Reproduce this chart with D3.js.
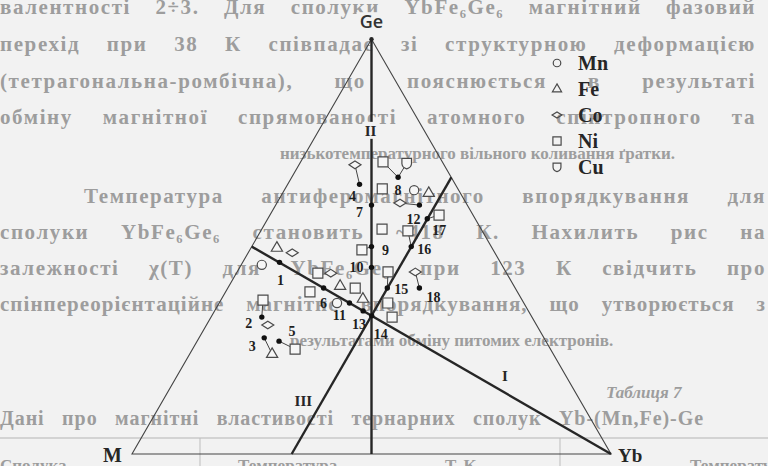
<!DOCTYPE html>
<html>
<head>
<meta charset="utf-8">
<script src="https://cdn.jsdelivr.net/npm/d3@7"></script>
<style>
html, body { margin: 0; padding: 0; background: #f2f2f2; }
#chartView { position: relative; width: 768px; height: 466px; overflow: hidden; }
.ternaryChart { position: absolute; }
</style>
</head>
<body>
<div id="ternary"><div data-id="chartView" id="chartView"></div></div>
<script>
// corners of the diagram, order of every composition below: [Ge, M, Yb]
var vertexNames = ['Ge', 'M', 'Yb'];
var elements = ['Mn', 'Fe', 'Co', 'Ni', 'Cu'];

// numbered compounds (filled dots)
var compounds = [
    ['1', 0.462, 0.461, 0.077],
    ['2', 0.330, 0.564, 0.106],
    ['3', 0.280, 0.584, 0.136],
    ['4', 0.650, 0.200, 0.150],
    ['5', 0.272, 0.557, 0.171],
    ['6', 0.400, 0.400, 0.200],
    ['7', 0.600, 0.200, 0.200],
    ['8', 0.667, 0.111, 0.222],
    ['9', 0.500, 0.250, 0.250],
    ['10', 0.450, 0.275, 0.275],
    ['11', 0.364, 0.364, 0.272],
    ['12', 0.600, 0.100, 0.300],
    ['13', 0.345, 0.345, 0.310],
    ['14', 0.333, 0.333, 0.334],
    ['15', 0.400, 0.267, 0.333],
    ['16', 0.500, 0.167, 0.333],
    ['17', 0.567, 0.100, 0.333],
    ['18', 0.400, 0.200, 0.400]
];

// compounds with a given M (open symbols), last column = compound it is tied to
var variants = [
    ['Co', 0.697, 0.186, 0.117, '4'],
    ['Ni', 0.704, 0.124, 0.172, '8'],
    ['Cu', 0.701, 0.076, 0.223, '8'],
    ['Ni', 0.639, 0.158, 0.203, null],
    ['Mn', 0.636, 0.093, 0.271, null],
    ['Fe', 0.629, 0.066, 0.305, null],
    ['Co', 0.605, 0.138, 0.257, '12'],
    ['Ni', 0.576, 0.071, 0.353, '17'],
    ['Ni', 0.542, 0.207, 0.251, null],
    ['Ni', 0.538, 0.155, 0.307, '16'],
    ['Ni', 0.492, 0.274, 0.234, '9'],
    ['Fe', 0.497, 0.449, 0.054, null],
    ['Co', 0.485, 0.423, 0.092, null],
    ['Mn', 0.456, 0.501, 0.043, null],
    ['Ni', 0.439, 0.246, 0.315, '15'],
    ['Co', 0.439, 0.189, 0.372, '18'],
    ['Ni', 0.436, 0.394, 0.170, null],
    ['Co', 0.436, 0.367, 0.197, null],
    ['Fe', 0.405, 0.363, 0.232, null],
    ['Ni', 0.400, 0.334, 0.266, null],
    ['Ni', 0.391, 0.433, 0.176, null],
    ['Mn', 0.364, 0.390, 0.246, null],
    ['Fe', 0.374, 0.331, 0.295, null],
    ['Ni', 0.364, 0.284, 0.352, null],
    ['Ni', 0.330, 0.292, 0.378, null],
    ['Ni', 0.371, 0.541, 0.088, '2'],
    ['Co', 0.311, 0.561, 0.128, null],
    ['Fe', 0.241, 0.587, 0.172, '3'],
    ['Ni', 0.253, 0.533, 0.214, '5']
];

// section lines I, II, III: from / to compositions
var lineNames = ['I', 'II', 'III'];
var lineFrom = [[0.5, 0.5, 0], [1, 0, 0], [0, 2 / 3, 1 / 3]];
var lineTo = [[0, 0, 1], [0, 0.5, 0.5], [2 / 3, 0, 1 / 3]];

// the printed page behind the figure
var pageLines = [
    'валентності 2÷3. Для сполуки YbFe₆Ge₆ магнітний фазовий',
    'перехід при 38 К співпадає зі структурною деформацією',
    '(тетрагональна-ромбічна), що пояснюється в результаті',
    'обміну магнітної спрямованості атомного спінтропного та',
    'низькотемпературного вільного коливання ґратки.',
    'Температура антиферомагнітного впорядкування для',
    'сполуки YbFe₆Ge₆ становить ~418 К. Нахилить рис на',
    'залежності χ(T) для YbFe₆Ge₆ при 123 К свідчить про',
    'спінпереорієнтаційне магнітне впорядкування, що утворюється з',
    'результатами обміну питомих електронів.',
    'Таблиця 7',
    'Дані про магнітні властивості тернарних сполук Yb-(Mn,Fe)-Ge'
];
var tableHead = ['Сполука', 'Температура', 'T, K', 'Температура'];

var VIS = VIS || {};
VIS.CHART = VIS.CHART || {};
VIS.CHART.WIDGET = VIS.CHART.WIDGET || {};
VIS.CHART.WIDGET.ternaryWidget = function (options) {

    if (!options) throw 'options can not be null';
    else if (options && !options.element) throw 'options.element can not be null';

    var defaultVal = {
        corner: { left: 132, right: 611, base: 454 },
        dotSize: 2.7,
        ink: '#262626',
        paper: '#f2f2f2',
        pageInk: '#9d9d9d',
        serif: '"Liberation Serif", "DejaVu Serif", serif',
        // [x start, x end (justified) or null, baseline, font size]
        pageLayout: [
            [0, 756, 14, 21], [0, 756, 51, 21], [0, 756, 88, 21], [0, 756, 124, 21],
            [280, null, 159, 17], [84, 766, 203, 21], [0, 766, 239, 21], [0, 766, 275, 21],
            [0, 766, 311, 21], [290, null, 346, 17], [606, null, 398, 17], [0, 704, 425, 20]
        ],
        tableHeadX: [0, 238, 445, 690],
        labelOffset: {
            '1': [1, 18], '2': [-13, 6], '3': [-12, 8], '4': [-7, 12], '5': [13, -10],
            '6': [0, 15], '7': [-12, 7], '8': [0, 13], '9': [14, 3], '10': [-15, 0],
            '11': [-10, 12], '12': [-6, 14], '13': [-4, 13], '14': [9, 18],
            '15': [14, 1], '16': [13, 2], '17': [12, 11], '18': [14, 9]
        },
        // [position along line, dx, dy]
        lineLabel: { 'I': [0.705, 0, -17], 'II': [0.221, -1, 0], 'III': [0.192, -19, 0] },
        legend: { x: 557, y: 63, step: 26, textX: 578 }
    };

    function Ternary(options) {
        var self = this;
        self.d3Ele = d3.select(options.element);
        self.element = options.element;
        self.settings = Object.assign({}, defaultVal, options);
    }

    Ternary.prototype = {
        init: function () {
            this._initChart();
        },
        _initChart: function () {
            var self = this, s = self.settings;
            var view = self.d3Ele.select('[data-id=chartView]');
            view.html('');
            self.width = view.node().clientWidth;
            self.height = view.node().clientHeight;

            self.chart = view.append('svg')
                .attr('class', 'ternaryChart')
                .attr('width', self.width)
                .attr('height', self.height);
            self.chart.append('rect').attr('width', self.width).attr('height', self.height).attr('fill', s.paper);

            var side = s.corner.right - s.corner.left;
            self.xScale = d3.scaleLinear().domain([0, 1]).range([s.corner.left, s.corner.right]);
            self.yScale = d3.scaleLinear().domain([0, 1]).range([s.corner.base, s.corner.base - side * Math.sqrt(3) / 2]);

            self._drawPage();
            self._drawFrame();
            self._drawPoints();
            self._drawLegend();
        },
        _project: function (c) {
            var sum = c[0] + c[1] + c[2];
            var ge = c[0] / sum, yb = c[2] / sum;
            return [this.xScale(yb + ge / 2), this.yScale(ge)];
        },
        _symbol: function (name, k) {
            switch (name) {
                case 'Mn': return 'M' + (4.6 * k) + ',0A' + (4.6 * k) + ',' + (4.6 * k) + ' 0 1,1 ' + (-4.6 * k) + ',0A' + (4.6 * k) + ',' + (4.6 * k) + ' 0 1,1 ' + (4.6 * k) + ',0Z';
                case 'Fe': return 'M0,' + (-6.2 * k) + 'L' + (5.6 * k) + ',' + (3.4 * k) + 'L' + (-5.6 * k) + ',' + (3.4 * k) + 'Z';
                case 'Co': return 'M' + (-6 * k) + ',0L0,' + (-3.8 * k) + 'L' + (6 * k) + ',0L0,' + (3.8 * k) + 'Z';
                case 'Ni': return 'M' + (-5 * k) + ',' + (-5 * k) + 'h' + (10 * k) + 'v' + (10 * k) + 'h' + (-10 * k) + 'Z';
                default: return 'M' + (-4.8 * k) + ',' + (-4.8 * k) + 'L' + (4.8 * k) + ',' + (-4.8 * k) + 'L' + (4.8 * k) + ',' + (0.6 * k) +
                    'Q' + (4.4 * k) + ',' + (4.6 * k) + ' 0,' + (5.6 * k) + 'Q' + (-4.4 * k) + ',' + (4.6 * k) + ' ' + (-4.8 * k) + ',' + (0.6 * k) + 'Z';
            }
        },
        _justify: function (t, width) {
            // spread a line over the column: a little letter spacing, the rest between words
            var text = t.text();
            var natural = t.node().getComputedTextLength();
            var extra = width - natural;
            if (extra <= 0) { t.attr('textLength', width).attr('lengthAdjust', 'spacingAndGlyphs'); return; }
            var spaces = (text.match(/ /g) || []).length;
            var ls = Math.min(extra * 0.45 / text.length, 1.6);
            t.style('letter-spacing', ls + 'px');
            var rest = width - t.node().getComputedTextLength();
            if (spaces > 0) t.style('word-spacing', (rest / spaces) + 'px');
        },
        _drawPage: function () {
            var self = this, s = self.settings;
            var g = self.chart.append('g').attr('class', 'pageText')
                .style('font-family', s.serif).style('font-weight', 'bold')
                .attr('fill', s.pageInk);
            pageLines.forEach(function (line, i) {
                var lay = s.pageLayout[i];
                var t = g.append('text').attr('x', lay[0]).attr('y', lay[2])
                    .style('font-size', lay[3] + 'px').text(line);
                if (line.indexOf('Таблиця') === 0) t.style('font-style', 'italic');
                if (lay[1] !== null) self._justify(t, lay[1] - lay[0]);
            });
            g.append('line').attr('x1', 0).attr('x2', self.width).attr('y1', 438).attr('y2', 438)
                .attr('stroke', '#b4b4b4').attr('stroke-width', 1.2);
            [200, 560].forEach(function (x) {
                g.append('line').attr('x1', x).attr('x2', x).attr('y1', 438).attr('y2', self.height)
                    .attr('stroke', '#bdbdbd').attr('stroke-width', 1);
            });
            tableHead.forEach(function (h, i) {
                g.append('text').attr('x', s.tableHeadX[i]).attr('y', 471).style('font-size', '17px').text(h);
            });
        },
        _drawFrame: function () {
            var self = this, s = self.settings;
            var corners = [[1, 0, 0], [0, 1, 0], [0, 0, 1]].map(function (c) { return self._project(c); });
            var frame = self.chart.append('g').attr('class', 'frame');

            frame.append('path')
                .attr('d', d3.line()(corners.concat([corners[0]])))
                .attr('fill', 'none').attr('stroke', '#444').attr('stroke-width', 1.1);

            lineNames.forEach(function (name, i) {
                var a = self._project(lineFrom[i]), b = self._project(lineTo[i]);
                frame.append('line')
                    .attr('x1', a[0]).attr('y1', a[1]).attr('x2', b[0]).attr('y2', b[1])
                    .attr('stroke', s.ink).attr('stroke-width', 2.4);
                var p = s.lineLabel[name];
                var lx = a[0] + (b[0] - a[0]) * p[0] + p[1], ly = a[1] + (b[1] - a[1]) * p[0] + p[2];
                if (name === 'II') {
                    frame.append('rect').attr('x', lx - 8).attr('y', ly - 9).attr('width', 16).attr('height', 17).attr('fill', s.paper);
                }
                frame.append('text').attr('x', lx).attr('y', ly + 5)
                    .attr('text-anchor', 'middle').attr('fill', s.ink)
                    .style('font-family', s.serif).style('font-weight', 'bold').style('font-size', '15px')
                    .text(name);
            });

            frame.append('circle').attr('cx', corners[0][0]).attr('cy', corners[0][1]).attr('r', 2.2).attr('fill', s.ink);

            frame.append('rect').attr('x', corners[0][0] - 15).attr('y', corners[0][1] - 27).attr('width', 30).attr('height', 20).attr('fill', s.paper);
            frame.append('text').attr('x', corners[0][0]).attr('y', corners[0][1] - 11)
                .attr('text-anchor', 'middle').attr('fill', '#333')
                .style('font-family', '"Open Sans", "DejaVu Sans", sans-serif').style('font-weight', 600).style('font-size', '18px')
                .text(vertexNames[0]);
            frame.append('text').attr('x', corners[1][0] - 10).attr('y', corners[1][1] + 8)
                .attr('text-anchor', 'end').attr('fill', s.ink)
                .style('font-family', s.serif).style('font-weight', 'bold').style('font-size', '20px')
                .text(vertexNames[1]);
            frame.append('text').attr('x', corners[2][0] + 7).attr('y', corners[2][1] + 8)
                .attr('text-anchor', 'start').attr('fill', s.ink)
                .style('font-family', s.serif).style('font-weight', 'bold').style('font-size', '19px')
                .text(vertexNames[2]);
        },
        _drawPoints: function () {
            var self = this, s = self.settings;
            var byLabel = {};
            compounds.forEach(function (d) { byLabel[d[0]] = self._project(d.slice(1)); });

            var ties = self.chart.append('g').attr('class', 'ties');
            variants.filter(function (v) { return v[4]; }).forEach(function (v) {
                var a = self._project(v.slice(1, 4)), b = byLabel[v[4]];
                ties.append('line').attr('x1', a[0]).attr('y1', a[1]).attr('x2', b[0]).attr('y2', b[1])
                    .attr('stroke', '#444').attr('stroke-width', 1);
            });

            self.chart.append('g').attr('class', 'symbols').selectAll('.sym').data(variants)
                .enter().append('path').attr('class', 'sym')
                .attr('transform', function (d) { var p = self._project(d.slice(1, 4)); return 'translate(' + p[0] + ',' + p[1] + ')'; })
                .attr('d', function (d) { return self._symbol(d[0], 1); })
                .attr('fill', '#f6f6f6').attr('stroke', '#4a4a4a').attr('stroke-width', 1.2);

            var dots = self.chart.append('g').attr('class', 'dotArea').selectAll('.dot').data(compounds)
                .enter().append('g').attr('class', 'dot')
                .attr('transform', function (d) { var p = byLabel[d[0]]; return 'translate(' + p[0] + ',' + p[1] + ')'; });
            dots.append('circle').attr('r', s.dotSize).attr('fill', '#111');
            dots.append('text')
                .attr('x', function (d) { return s.labelOffset[d[0]][0]; })
                .attr('y', function (d) { return s.labelOffset[d[0]][1] + 5; })
                .attr('text-anchor', 'middle').attr('fill', '#1e1e1e')
                .style('font-family', s.serif).style('font-weight', 'bold').style('font-size', '14px')
                .text(function (d) { return d[0]; });
        },
        _drawLegend: function () {
            var self = this, s = self.settings, L = s.legend;
            var items = self.chart.append('g').attr('class', 'legend').selectAll('.item').data(elements)
                .enter().append('g').attr('class', 'item')
                .attr('transform', function (d, i) { return 'translate(' + L.x + ',' + (L.y + i * L.step) + ')'; });
            items.append('path').attr('d', function (d) { return self._symbol(d, 0.82); })
                .attr('fill', 'none').attr('stroke', '#4a4a4a').attr('stroke-width', 1.2);
            items.append('text').attr('x', L.textX - L.x).attr('y', 7).attr('fill', s.ink)
                .style('font-family', s.serif).style('font-weight', 'bold').style('font-size', '20px')
                .text(function (d) { return d; });
        }
    };

    var chart = new Ternary(options);
    chart.init();
    return { options: chart.settings };
};

VIS.CHART.WIDGET.ternaryWidget({ element: document.getElementById('ternary') });
</script>
</body>
</html>
